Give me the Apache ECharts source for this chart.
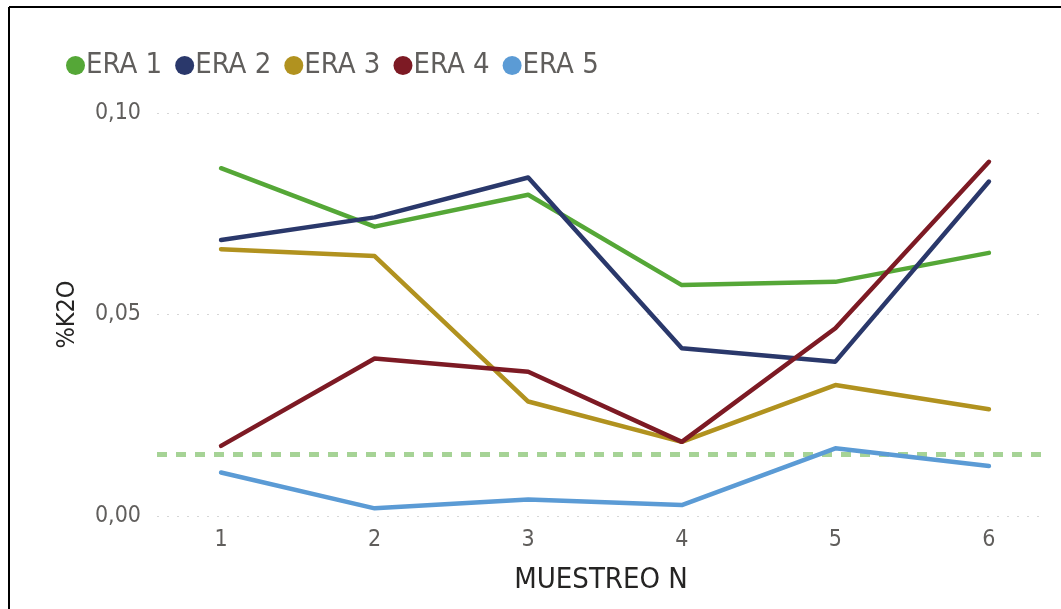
<!DOCTYPE html>
<html>
<head>
<meta charset="utf-8">
<script src="https://cdn.jsdelivr.net/npm/echarts@6/dist/echarts.min.js"></script>
<style>
html,body{margin:0;padding:0;background:#fff;}
#chart{width:1061px;height:609px;}
</style>
</head>
<body>
<div id="chart"></div>
<script>
const categories = ['1', '2', '3', '4', '5', '6'];
const seriesNames = ['ERA 1', 'ERA 2', 'ERA 3', 'ERA 4', 'ERA 5'];
const era1 = [0.0863, 0.0718, 0.0797, 0.0573, 0.0581, 0.0653];
const era2 = [0.0685, 0.0741, 0.0840, 0.0416, 0.0383, 0.0830];
const era3 = [0.0662, 0.0645, 0.0284, 0.0184, 0.0325, 0.0265];
const era4 = [0.0174, 0.0391, 0.0358, 0.0184, 0.0466, 0.0879];
const era5 = [0.0108, 0.0019, 0.0041, 0.0027, 0.0168, 0.0124];
const yTicks = [0, 0.05, 0.10];
const thresholdValue = 0.0154;

const colors = ['#55A737', '#2A386B', '#B1921F', '#7D1A24', '#5B9BD5'];
const allValues = [era1, era2, era3, era4, era5];
const FONT = '"DejaVu Sans Condensed", "Liberation Sans Narrow", sans-serif';

const chart = echarts.init(document.getElementById('chart'));
const series = allValues.map((vals, k) => ({
  name: seriesNames[k],
  type: 'line',
  data: categories.map((c, i) => [i + 1, vals[i]]),
  symbol: 'none',
  lineStyle: { width: 4.5, color: colors[k], cap: 'round', join: 'round' },
  itemStyle: { color: colors[k] },
  z: 3 + k,
  markLine: k === 0 ? {
    silent: true,
    symbol: 'none',
    precision: 4,
    label: { show: false },
    lineStyle: { type: [10, 9], width: 5, color: '#A6D396' },
    data: [{ yAxis: thresholdValue }],
    z: 1
  } : undefined
}));

chart.setOption({
  animation: false,
  color: colors,
  textStyle: { fontFamily: FONT },
  graphic: [
    { type: 'line', shape: { x1: 9, y1: 7, x2: 1061, y2: 7 }, style: { stroke: '#000', lineWidth: 2 } },
    { type: 'line', shape: { x1: 9, y1: 7, x2: 9, y2: 609 }, style: { stroke: '#000', lineWidth: 2 } }
  ],
  legend: {
    data: seriesNames,
    left: 61,
    top: 46,
    icon: 'circle',
    itemWidth: 19,
    itemHeight: 19,
    itemGap: 13,
    textStyle: { fontSize: 29, color: '#605E5C', fontFamily: FONT, padding: [0, 0, 0, -4] }
  },
  grid: { left: 157, right: 16, top: 113, bottom: 93, containLabel: false },
  xAxis: {
    type: 'value',
    min: 0.583,
    max: 6.365,
    name: 'MUESTREO N',
    nameLocation: 'middle',
    nameGap: 50,
    nameTextStyle: { fontSize: 29, color: '#252423', fontFamily: FONT },
    axisLine: { show: false },
    axisTick: { show: false },
    splitLine: { show: false },
    axisLabel: {
      customValues: categories.map((c, i) => i + 1),
      formatter: v => categories[Math.round(v) - 1],
      fontSize: 23,
      color: '#605E5C',
      margin: 13,
      fontFamily: FONT
    }
  },
  yAxis: {
    type: 'value',
    min: yTicks[0],
    max: yTicks[yTicks.length - 1],
    interval: 0.05,
    name: '%K2O',
    nameLocation: 'middle',
    nameGap: 77,
    nameRotate: 90,
    nameTextStyle: { fontSize: 25, color: '#252423', fontFamily: FONT },
    axisLine: { show: false },
    axisTick: { show: false },
    axisLabel: {
      formatter: v => v.toFixed(2).replace('.', ','),
      fontSize: 23,
      color: '#605E5C',
      margin: 16,
      fontFamily: FONT
    },
    splitLine: { lineStyle: { type: [2, 8], color: '#D6D6D6', width: 1 } }
  },
  series: series
});
</script>
</body>
</html>
